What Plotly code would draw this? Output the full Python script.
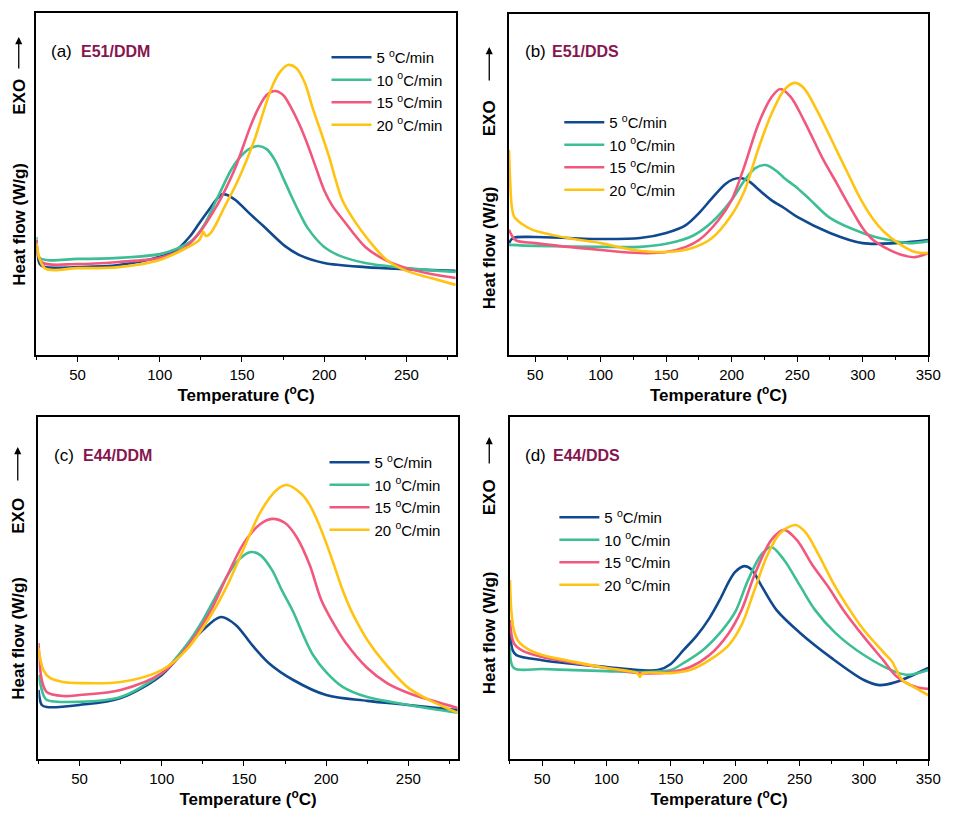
import plotly.graph_objects as go

# ---------------- data (normalised heat flow, arbitrary units) ----------------
rate_labels = ["5 <sup>o</sup>C/min", "10 <sup>o</sup>C/min", "15 <sup>o</sup>C/min", "20 <sup>o</sup>C/min"]
colors = ["#10498F", "#3DBE95", "#F2587D", "#FFC312"]

# (a) E51/DDM
a_T5 = [25, 27, 30, 50, 75, 100, 110, 118, 124, 131, 135, 138, 141, 146, 155, 163, 170, 176, 185, 200, 225, 250, 280]
a_H5 = [0.336, 0.266, 0.257, 0.257, 0.263, 0.287, 0.307, 0.345, 0.385, 0.432, 0.458, 0.470, 0.468, 0.453, 0.412, 0.377, 0.345, 0.319, 0.292, 0.269, 0.257, 0.251, 0.246]
a_T10 = [25, 27, 50, 75, 100, 110, 120, 127, 135, 143, 147, 151, 155, 160, 165, 170, 175, 180, 185, 190, 200, 210, 225, 250, 280]
a_H10 = [0.345, 0.284, 0.281, 0.284, 0.295, 0.310, 0.336, 0.380, 0.459, 0.538, 0.568, 0.590, 0.604, 0.611, 0.602, 0.570, 0.518, 0.465, 0.415, 0.371, 0.316, 0.289, 0.269, 0.254, 0.243]
a_T15 = [25, 28, 50, 75, 100, 115, 124, 135, 140, 146, 155, 160, 165, 170, 175, 180, 185, 190, 195, 200, 205, 212, 225, 237, 250, 265, 280]
a_H15 = [0.336, 0.272, 0.266, 0.272, 0.284, 0.313, 0.357, 0.439, 0.485, 0.548, 0.667, 0.722, 0.760, 0.772, 0.760, 0.722, 0.673, 0.614, 0.547, 0.482, 0.436, 0.392, 0.316, 0.278, 0.254, 0.237, 0.225]
a_T20 = [25, 30, 50, 75, 100, 115, 124, 126.5, 128, 131, 140, 146, 152, 158, 163, 168, 173, 178, 183, 188, 193, 198, 203, 207, 211, 218, 227, 238, 250, 265, 280]
a_H20 = [0.327, 0.254, 0.254, 0.257, 0.278, 0.310, 0.336, 0.360, 0.348, 0.357, 0.439, 0.495, 0.560, 0.635, 0.711, 0.781, 0.827, 0.848, 0.839, 0.798, 0.722, 0.652, 0.579, 0.512, 0.453, 0.395, 0.336, 0.278, 0.246, 0.225, 0.205]

# (b) E51/DDS
b_T5 = [30, 33, 50, 100, 130, 150, 165, 175, 185, 195, 201, 207, 213, 220, 230, 240, 250, 275, 300, 325, 350]
b_H5 = [0.328, 0.343, 0.346, 0.340, 0.343, 0.358, 0.381, 0.416, 0.460, 0.501, 0.515, 0.519, 0.510, 0.487, 0.455, 0.431, 0.405, 0.358, 0.328, 0.328, 0.337]
b_T10 = [30, 50, 100, 130, 150, 170, 185, 200, 210, 218, 226, 235, 240, 250, 260, 275, 300, 320, 335, 350]
b_H10 = [0.323, 0.320, 0.317, 0.317, 0.326, 0.349, 0.390, 0.455, 0.513, 0.548, 0.557, 0.537, 0.519, 0.490, 0.455, 0.402, 0.358, 0.337, 0.328, 0.334]
b_T15 = [30, 35, 50, 100, 130, 150, 165, 175, 190, 200, 210, 220, 230, 237, 245, 255, 270, 280, 286, 293, 300, 308, 316, 330, 340, 350]
b_H15 = [0.367, 0.337, 0.328, 0.308, 0.299, 0.302, 0.317, 0.337, 0.396, 0.455, 0.557, 0.674, 0.754, 0.780, 0.757, 0.689, 0.572, 0.505, 0.463, 0.416, 0.372, 0.337, 0.317, 0.293, 0.287, 0.299]
b_T20 = [30, 31, 32, 34, 40, 48, 75, 100, 125, 150, 170, 185, 200, 210, 220, 230, 240, 248, 255, 265, 280, 290, 298, 308, 316, 328, 340, 350]
b_H20 = [0.601, 0.499, 0.440, 0.405, 0.384, 0.367, 0.343, 0.328, 0.308, 0.302, 0.314, 0.343, 0.411, 0.484, 0.601, 0.704, 0.777, 0.798, 0.783, 0.718, 0.601, 0.522, 0.460, 0.398, 0.362, 0.326, 0.302, 0.299]

# (c) E44/DDM
c_T5 = [25, 27, 30, 50, 75, 100, 115, 125, 136, 145, 155, 165, 180, 200, 225, 250, 280]
c_H5 = [0.202, 0.158, 0.152, 0.158, 0.178, 0.246, 0.325, 0.377, 0.415, 0.392, 0.333, 0.281, 0.231, 0.187, 0.170, 0.158, 0.143]
c_T10 = [25, 28, 30, 50, 75, 100, 115, 125, 135, 145, 154, 160, 167, 173, 180, 186, 192, 200, 210, 225, 250, 280]
c_H10 = [0.246, 0.187, 0.173, 0.167, 0.181, 0.251, 0.333, 0.406, 0.494, 0.573, 0.605, 0.596, 0.553, 0.494, 0.430, 0.363, 0.304, 0.254, 0.211, 0.181, 0.158, 0.135]
c_T15 = [25, 27, 30, 40, 50, 75, 100, 115, 130, 140, 150, 160, 167, 175, 182, 190, 197, 205, 212, 225, 237, 250, 265, 280]
c_H15 = [0.339, 0.231, 0.196, 0.184, 0.187, 0.202, 0.251, 0.325, 0.436, 0.538, 0.632, 0.687, 0.702, 0.690, 0.649, 0.567, 0.465, 0.392, 0.339, 0.266, 0.222, 0.193, 0.170, 0.149]
c_T20 = [25, 28, 32, 40, 50, 75, 100, 115, 130, 140, 150, 160, 170, 176, 185, 190, 195, 200, 205, 210, 215, 220, 225, 235, 250, 265, 280]
c_H20 = [0.325, 0.260, 0.237, 0.225, 0.222, 0.225, 0.260, 0.319, 0.421, 0.509, 0.617, 0.722, 0.787, 0.801, 0.775, 0.743, 0.693, 0.632, 0.564, 0.494, 0.436, 0.389, 0.348, 0.284, 0.208, 0.167, 0.135]

# (d) E44/DDS
d_T5 = [25, 27, 30, 50, 75, 100, 125, 140, 150, 160, 170, 180, 188, 195, 200, 207, 213, 220, 232, 250, 275, 300, 312, 325, 350]
d_H5 = [0.377, 0.319, 0.304, 0.289, 0.278, 0.269, 0.260, 0.260, 0.278, 0.319, 0.360, 0.412, 0.465, 0.518, 0.547, 0.564, 0.553, 0.509, 0.436, 0.370, 0.295, 0.231, 0.216, 0.225, 0.266]
d_T10 = [25, 28, 50, 75, 100, 125, 150, 160, 175, 190, 200, 210, 220, 228, 238, 250, 262, 278, 300, 325, 335, 350]
d_H10 = [0.327, 0.266, 0.263, 0.260, 0.257, 0.254, 0.260, 0.281, 0.319, 0.377, 0.430, 0.523, 0.596, 0.620, 0.582, 0.509, 0.436, 0.368, 0.304, 0.254, 0.246, 0.260]
d_T15 = [25, 28, 35, 50, 75, 100, 125, 150, 165, 180, 195, 205, 215, 228, 238, 248, 260, 272, 284, 300, 315, 325, 340, 350]
d_H15 = [0.406, 0.339, 0.316, 0.298, 0.281, 0.266, 0.251, 0.254, 0.269, 0.304, 0.368, 0.436, 0.538, 0.640, 0.670, 0.640, 0.567, 0.505, 0.436, 0.357, 0.289, 0.243, 0.211, 0.205]
d_T20 = [25, 26, 28, 32, 40, 50, 75, 100, 124, 126, 128, 150, 165, 180, 195, 205, 215, 225, 235, 247, 255, 265, 277, 289, 300, 315, 322, 324, 330, 340, 350]
d_H20 = [0.523, 0.436, 0.377, 0.342, 0.319, 0.304, 0.284, 0.266, 0.251, 0.240, 0.251, 0.251, 0.260, 0.289, 0.333, 0.392, 0.494, 0.596, 0.661, 0.684, 0.661, 0.596, 0.509, 0.436, 0.377, 0.313, 0.284, 0.270, 0.231, 0.208, 0.187]

panel_tags = ["(a)", "(b)", "(c)", "(d)"]
panel_names = ["E51/DDM", "E51/DDS", "E44/DDM", "E44/DDS"]
x_ranges = [[25, 280], [30, 350], [25, 280], [25, 350]]

panels = [
    [(a_T5, a_H5), (a_T10, a_H10), (a_T15, a_H15), (a_T20, a_H20)],
    [(b_T5, b_H5), (b_T10, b_H10), (b_T15, b_H15), (b_T20, b_H20)],
    [(c_T5, c_H5), (c_T10, c_H10), (c_T15, c_H15), (c_T20, c_H20)],
    [(d_T5, d_H5), (d_T10, d_H10), (d_T15, d_H15), (d_T20, d_H20)],
]

# ---------------- layout geometry (pixels) ----------------
W, H = 957, 814
boxes = [(37, 462, 13, 355), (516, 941, 14, 355), (39, 464, 417, 759), (517, 941, 417, 759)]
legend_pos = [(331, 41), (567, 106), (329, 446), (562, 501)]
label_pos = [(50, 80, 51), (530, 558, 52), (53, 82, 455), (530, 559, 455)]
ylab_x = [19, 496, 18, 496]
heat_y = [224, 248, 638, 633]
exo_y = [97, 118, 516, 497]
arrow_y = [(37, 70), (47, 82), (447, 482), (437, 465)]

FONT = "Liberation Sans, Arial, sans-serif"
LABEL_COLOR = "#87154F"

fig = go.Figure()

def px2x(p):
    return p / W

def px2y(p):
    return 1 - p / H

layout = dict(
    width=W, height=H, margin=dict(l=0, r=0, t=0, b=0),
    paper_bgcolor="white", plot_bgcolor="white",
    font=dict(family=FONT, size=15, color="black"),
    annotations=[],
)

for i in range(4):
    sfx = "" if i == 0 else str(i + 1)
    xa, ya = "x" + sfx, "y" + sfx
    lg = "legend" + sfx
    for j, (T, Hf) in enumerate(panels[i]):
        fig.add_trace(go.Scatter(
            x=T, y=Hf, mode="lines", name=rate_labels[j],
            line=dict(color=colors[j], width=2.6, shape="spline", smoothing=0.9),
            xaxis=xa, yaxis=ya, legend=lg, showlegend=True,
        ))
    l, r, t, b = boxes[i]
    layout["xaxis" + sfx] = dict(
        domain=[px2x(l), px2x(r)], anchor=ya, range=x_ranges[i],
        dtick=50, tick0=0, ticks="outside", ticklen=5, tickwidth=1.3, tickcolor="black",
        minor=dict(dtick=25, ticks="outside", ticklen=3, tickwidth=1.3, tickcolor="black"),
        showline=True, linecolor="black", linewidth=1.6, mirror=True,
        showgrid=False, zeroline=False,
        tickfont=dict(family=FONT, size=15, color="black"),
        title=dict(text="<b>Temperature (<sup>o</sup>C)</b>", standoff=2,
                   font=dict(family=FONT, size=17, color="black")),
    )
    layout["yaxis" + sfx] = dict(
        domain=[px2y(b), px2y(t)], anchor=xa, range=[0, 1],
        showticklabels=False, ticks="", showline=True, linecolor="black",
        linewidth=1.6, mirror=True, showgrid=False, zeroline=False,
    )
    lx, ly = legend_pos[i]
    layout[lg] = dict(
        x=px2x(lx), y=px2y(ly), xanchor="left", yanchor="top",
        bgcolor="rgba(0,0,0,0)", borderwidth=0, itemwidth=40,
        font=dict(family=FONT, size=15, color="black"),
        tracegroupgap=0,
    )
    x1, x2, yl = label_pos[i]
    layout["annotations"].append(dict(
        text=panel_tags[i], x=px2x(x1), y=px2y(yl), xref="paper", yref="paper",
        xanchor="left", yanchor="middle", showarrow=False,
        font=dict(family=FONT, size=17, color="black")))
    layout["annotations"].append(dict(
        text="<b>" + panel_names[i] + "</b>", x=px2x(x2), y=px2y(yl), xref="paper", yref="paper",
        xanchor="left", yanchor="middle", showarrow=False,
        font=dict(family=FONT, size=16, color=LABEL_COLOR)))
    layout["annotations"].append(dict(
        text="<b>Heat flow (W/g)</b>", x=px2x(ylab_x[i]), y=px2y(heat_y[i]),
        xref="paper", yref="paper", xanchor="center", yanchor="middle",
        textangle=-90, showarrow=False, font=dict(family=FONT, size=17, color="black")))
    layout["annotations"].append(dict(
        text="<b>EXO</b>", x=px2x(ylab_x[i]), y=px2y(exo_y[i]),
        xref="paper", yref="paper", xanchor="center", yanchor="middle",
        textangle=-90, showarrow=False, font=dict(family=FONT, size=17, color="black")))
    ah, at = arrow_y[i]
    layout["annotations"].append(dict(
        text="", x=px2x(ylab_x[i]), y=px2y(ah), xref="paper", yref="paper",
        ax=0, ay=(at - ah), axref="pixel", ayref="pixel",
        showarrow=True, arrowhead=2, arrowsize=1.1, arrowwidth=1.3, arrowcolor="black"))

fig.update_layout(**layout)
fig.write_html("out.html")
